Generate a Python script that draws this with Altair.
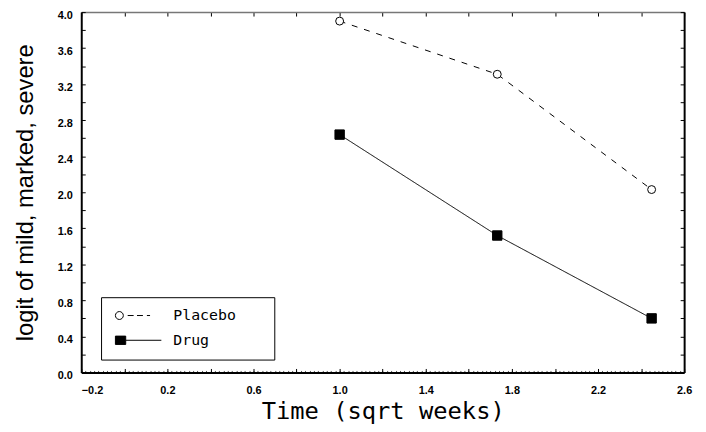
import altair as alt
import numpy as np
import pandas as pd

# ---- data ----
series = ["Placebo", "Drug"]
time_sqrt = [1.0, 1.732, 2.449]
placebo = [3.90, 3.31, 2.03]
drug = [2.64, 1.52, 0.60]

x_labels = [-0.2, 0.2, 0.6, 1.0, 1.4, 1.8, 2.2, 2.6]
y_labels = [0.0, 0.4, 0.8, 1.2, 1.6, 2.0, 2.4, 2.8, 3.2, 3.6, 4.0]
x_ticks = [-0.2, 0.0, 0.2, 0.4, 0.6, 0.8, 1.0, 1.2, 1.4, 1.6, 1.8, 2.0, 2.2, 2.4, 2.6]
y_ticks = [0.0, 0.2, 0.4, 0.6, 0.8, 1.0, 1.2, 1.4, 1.6, 1.8, 2.0,
           2.2, 2.4, 2.6, 2.8, 3.0, 3.2, 3.4, 3.6, 3.8, 4.0]
x_minor = [round(v, 2) for v in np.arange(-0.2, 2.6001, 0.02)]

rows = []
for t, p, d in zip(time_sqrt, placebo, drug):
    rows.append({"series": "Placebo", "time": t, "value": p})
    rows.append({"series": "Drug", "time": t, "value": d})
df = pd.DataFrame(rows)

W, H = 609, 364
xs = alt.Scale(domain=[-0.2, 2.6], nice=False, zero=False)
ys = alt.Scale(domain=[0.0, 4.0], nice=False, zero=False)

LABEL_FONT = "Liberation Sans"
MONO = "DejaVu Sans Mono"

base = alt.Chart(df)

# main lines with the labelled axes
lines = base.mark_line(color="black", strokeWidth=1).encode(
    x=alt.X(
        "time:Q", scale=xs,
        axis=alt.Axis(
            orient="bottom", values=x_labels, format=".1f", ticks=False, domain=False, grid=False,
            labelFont=LABEL_FONT, labelFontSize=11, labelFontWeight="bold", labelColor="black",
            labelPadding=12,
            labelAlign={"condition": {"test": "datum.value < 0", "value": "left"}, "value": "center"},
            title="Time (sqrt weeks)", titleFont=MONO, titleFontSize=24, titleFontWeight="normal",
            titleColor="black", titleY=47, titleBaseline="alphabetic",
        ),
    ),
    y=alt.Y(
        "value:Q", scale=ys,
        axis=alt.Axis(
            orient="left", values=y_labels, format=".1f", ticks=False, domain=False, grid=False,
            labelFont=LABEL_FONT, labelFontSize=11, labelFontWeight="bold", labelColor="black",
            labelPadding=9, labelOffset=3,
            title="logit of mild, marked, severe", titleFont=LABEL_FONT, titleFontSize=24,
            titleFontWeight="normal", titleColor="black", titleAngle=-90,
            titleX=-56, titleY=H / 2, titleBaseline="middle", titleAlign="center",
        ),
    ),
    strokeDash=alt.StrokeDash(
        "series:N", scale=alt.Scale(domain=series, range=[[6, 7], [1, 0]]), legend=None
    ),
)

points = base.mark_point(opacity=1, stroke="black", strokeWidth=1).encode(
    x=alt.X("time:Q", scale=xs, axis=None),
    y=alt.Y("value:Q", scale=ys, axis=None),
    shape=alt.Shape("series:N", scale=alt.Scale(domain=series, range=["circle", "square"]), legend=None),
    fill=alt.Fill("series:N", scale=alt.Scale(domain=series, range=["white", "black"]), legend=None),
    size=alt.Size("series:N", scale=alt.Scale(domain=series, range=[64, 90]), legend=None),
)

# legend (symbol + line sample drawn as custom symbol paths)
path_placebo = ("M-2,0A2,2,0,1,1,2,0A2,2,0,1,1,-2,0Z"
                "M4.2,0L7.2,0M8.9,0L11.9,0M13.9,0L15.5,0")
path_drug = "M-2,-2.1L3.2,-2.1L3.2,2.1L-2,2.1ZM3.2,0L21.2,0"

leg_props = dict(
    orient="none", legendX=20, legendY=288, title=None,
    strokeColor="black", fillColor="white", padding=11,
    labelFont=MONO, labelFontSize=15, labelColor="black", labelOffset=47,
    rowPadding=9, symbolSize=16, symbolStrokeWidth=1, symbolOpacity=1,
    labelExpr="datum.label + '\u00a0\u00a0\u00a0\u200b'",
)
legend_layer = base.transform_filter("datum.value < -100").mark_point(
    opacity=1, strokeWidth=1
).encode(
    x=alt.X("time:Q", scale=xs, axis=None),
    y=alt.Y("value:Q", scale=ys, axis=None),
    shape=alt.Shape("series:N", scale=alt.Scale(domain=series, range=[path_placebo, path_drug]),
                    legend=alt.Legend(**leg_props)),
    fill=alt.Fill("series:N", scale=alt.Scale(domain=series, range=["white", "black"]),
                  legend=alt.Legend(**leg_props)),
    stroke=alt.Stroke("series:N", scale=alt.Scale(domain=series, range=["black", "black"]),
                      legend=alt.Legend(**leg_props)),
)

# frame & inward ticks
tick_common = dict(labels=False, title=None, grid=False, tickColor="black", tickWidth=1)
frame_a = base.mark_point(opacity=0).encode(
    x=alt.X("time:Q", scale=xs, axis=alt.Axis(
        orient="top", offset=-H, values=x_ticks, tickSize=4,
        domainColor="black", domainWidth=2, **tick_common)),
    y=alt.Y("value:Q", scale=ys, axis=alt.Axis(
        orient="right", offset=-W, values=y_ticks, tickSize=4,
        domainColor="black", domainWidth=2, **tick_common)),
)
frame_b = base.mark_point(opacity=0).encode(
    x=alt.X("time:Q", scale=xs, axis=alt.Axis(
        orient="bottom", offset=-H, values=x_ticks, tickSize=4,
        domainColor="#777777", domainWidth=1.5, **tick_common)),
    y=alt.Y("value:Q", scale=ys, axis=alt.Axis(
        orient="left", offset=-W, values=y_ticks, tickSize=4,
        domainColor="black", domainWidth=2, **tick_common)),
)
frame_c = base.mark_point(opacity=0).encode(
    x=alt.X("time:Q", scale=xs, axis=alt.Axis(
        orient="top", offset=-H, values=x_minor, tickSize=2, domain=False,
        labels=False, title=None, grid=False, tickColor="#555555", tickWidth=1)),
    y=alt.Y("value:Q", scale=ys, axis=None),
)

chart = alt.layer(frame_c, frame_a, frame_b, lines, points, legend_layer).resolve_scale(
    shape="independent", fill="independent", stroke="independent"
).resolve_axis(
    x="independent", y="independent"
).properties(
    width=W, height=H,
    autosize=alt.AutoSizeParams(type="none"),
    padding={"left": 74, "top": 2, "right": 14, "bottom": 56},
    background="white",
).configure_view(stroke=None)

chart.save("out.html", embed_options={"renderer": "svg", "actions": False})
